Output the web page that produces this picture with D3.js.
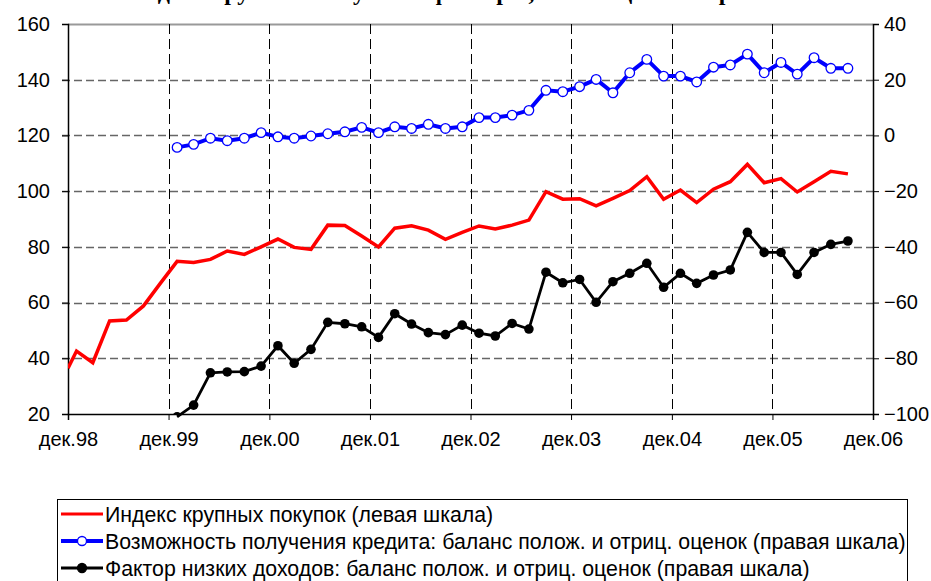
<!DOCTYPE html>
<html>
<head>
  <meta charset="utf-8">
  <title>Индекс крупных покупок</title>
  <style>
    body {
      background-color: white;
      margin: 0;
      padding: 0;
    }
    svg {
      display: block;
      font-family: "Liberation Sans", Arial, sans-serif;
    }
  </style>
</head>
<body>
  <div id="chart-container"></div>

  <script src="https://d3js.org/d3.v7.min.js"></script>
  <script>
    // Survey dates (Dec 98, then every other month)
    const dates = [
      '1998-12', '1999-01', '1999-03', '1999-05', '1999-07', '1999-09', '1999-11',
      '2000-01', '2000-03', '2000-05', '2000-07', '2000-09', '2000-11',
      '2001-01', '2001-03', '2001-05', '2001-07', '2001-09', '2001-11',
      '2002-01', '2002-03', '2002-05', '2002-07', '2002-09', '2002-11',
      '2003-01', '2003-03', '2003-05', '2003-07', '2003-09', '2003-11',
      '2004-01', '2004-03', '2004-05', '2004-07', '2004-09', '2004-11',
      '2005-01', '2005-03', '2005-05', '2005-07', '2005-09', '2005-11',
      '2006-01', '2006-03', '2006-05', '2006-07', '2006-09'
    ];

    // Индекс крупных покупок (левая шкала)
    const purchases = [
      36.4, 42.6, 38.4, 53.4, 53.7, 58.8, 66.9,
      74.8, 74.4, 75.5, 78.5, 77.3, 80.0,
      82.8, 79.8, 79.1, 87.8, 87.7, 83.9,
      80.0, 86.7, 87.6, 86.0, 82.7, 85.2,
      87.5, 86.4, 87.8, 89.6, 99.8, 97.1,
      97.3, 94.7, 97.4, 100.2, 105.2, 97.1,
      100.4, 95.9, 100.7, 103.4, 109.6, 103.0,
      104.5, 99.7, 103.4, 107.1, 106.2
    ];

    // Возможность получения кредита (правая шкала)
    const credit = [
      null, null, null, null, null, null, null,
      -4.3, -3.2, -1.0, -1.9, -1.0, 1.0,
      -0.5, -1.0, -0.2, 0.6, 1.3, 2.9,
      1.0, 3.1, 2.5, 4.0, 2.5, 3.1,
      6.4, 6.4, 7.3, 9.0, 16.2, 15.7,
      17.5, 20.1, 15.3, 22.5, 27.3, 21.3,
      21.3, 19.2, 24.5, 25.3, 29.2, 22.5,
      26.2, 22.0, 27.9, 24.1, 24.1
    ];

    // Фактор низких доходов (правая шкала)
    const lowIncome = [
      null, null, null, null, null, null, null,
      -101, -96.8, -85.2, -84.9, -84.8, -82.8,
      -75.5, -81.8, -76.8, -67.1, -67.6, -68.7,
      -72.5, -64.0, -67.7, -70.8, -71.5, -68.1,
      -71.0, -72.0, -67.5, -69.5, -49.1, -52.9,
      -51.7, -59.9, -52.5, -49.5, -45.9, -54.5,
      -49.5, -53.1, -50.1, -48.3, -34.8, -42.0,
      -42.0, -49.9, -42.0, -39.1, -37.9
    ];

    const xTicks = ['1998-12', '1999-12', '2000-12', '2001-12', '2002-12',
                    '2003-12', '2004-12', '2005-12', '2006-12'];
    const leftTicks = [20, 40, 60, 80, 100, 120, 140, 160];
    const rightTicks = [-100, -80, -60, -40, -20, 0, 20, 40];

    const legendLabels = [
      'Индекс крупных покупок (левая шкала)',
      'Возможность получения кредита: баланс полож. и отриц. оценок (правая шкала)',
      'Фактор низких доходов: баланс полож. и отриц. оценок (правая шкала)'
    ];

    const width = 931, height = 581;
    const margin = { top: 24, right: 58, bottom: 167, left: 68 };
    const parseMonth = d3.timeParse('%Y-%m');
    const monthsRu = ['янв', 'фев', 'мар', 'апр', 'май', 'июн', 'июл', 'авг', 'сен', 'окт', 'ноя', 'дек'];

    const svg = d3.select('#chart-container').append('svg')
      .attr('width', width)
      .attr('height', height);

    const x = d3.scaleTime()
      .domain([parseMonth(xTicks[0]), parseMonth(xTicks[xTicks.length - 1])])
      .range([margin.left, width - margin.right]);
    const yLeft = d3.scaleLinear().domain([20, 160]).range([height - margin.bottom, margin.top]);
    const yRight = d3.scaleLinear().domain([-100, 40]).range([height - margin.bottom, margin.top]);

    const x0 = margin.left, x1 = width - margin.right;
    const y0 = height - margin.bottom, y1 = margin.top;

    // title, almost all of it above the top edge (only descenders show)
    svg.append('text')
      .attr('x', 440)
      .attr('y', 0)
      .attr('text-anchor', 'middle')
      .style('font-family', '"Liberation Serif", "Times New Roman", serif')
      .style('font-weight', 'bold')
      .style('font-size', '24px')
      .text('Индекс крупных покупок и факторы, влияющие на спрос');

    svg.append('clipPath').attr('id', 'plot-clip')
      .append('rect')
      .attr('x', x0).attr('y', y1)
      .attr('width', x1 - x0).attr('height', y0 - y1);

    // plot border top
    svg.append('line')
      .attr('x1', x0).attr('x2', x1).attr('y1', y1 + 0.5).attr('y2', y1 + 0.5)
      .attr('stroke', '#999').attr('stroke-width', 2);

    // horizontal grid
    svg.append('g')
      .selectAll('line')
      .data(leftTicks.slice(1, -1))
      .enter()
      .append('line')
      .attr('x1', x0 - 6).attr('x2', x1)
      .attr('y1', d => Math.round(yLeft(d)) + 0.5)
      .attr('y2', d => Math.round(yLeft(d)) + 0.5)
      .attr('stroke', '#666')
      .attr('stroke-width', 1.5)
      .attr('stroke-dasharray', '8,4');

    // vertical grid
    svg.append('g')
      .selectAll('line')
      .data(xTicks.slice(1, -1))
      .enter()
      .append('line')
      .attr('x1', d => Math.round(x(parseMonth(d))) + 0.5)
      .attr('x2', d => Math.round(x(parseMonth(d))) + 0.5)
      .attr('y1', y1).attr('y2', y0)
      .attr('stroke', '#000')
      .attr('stroke-width', 1)
      .attr('stroke-dasharray', '10,5');

    // axes
    const tickFont = g => g.selectAll('text')
      .style('font-size', '20px')
      .style('font-family', '"Liberation Sans", Arial, sans-serif')
      .attr('fill', '#000');

    svg.append('g')
      .attr('transform', `translate(${x0},0)`)
      .call(d3.axisLeft(yLeft).tickValues(leftTicks).tickSize(6).tickPadding(12))
      .call(tickFont)
      .call(g => g.select('.domain').attr('stroke-width', 1.5));

    svg.append('g')
      .attr('transform', `translate(${x1},0)`)
      .call(d3.axisRight(yRight).tickValues(rightTicks).tickSize(6).tickPadding(5))
      .call(tickFont)
      .call(g => g.select('.domain').attr('stroke-width', 1.5));

    svg.append('g')
      .attr('transform', `translate(0,${y0})`)
      .call(d3.axisBottom(x)
        .tickValues(xTicks.map(parseMonth))
        .tickSize(6).tickPadding(12)
        .tickFormat(d => monthsRu[d.getMonth()] + '.' + d3.timeFormat('%y')(d)))
      .call(tickFont)
      .call(g => g.select('.domain').attr('stroke-width', 1.5));

    // series
    const plot = svg.append('g').attr('clip-path', 'url(#plot-clip)');

    const rows = (values) => dates.map((d, i) => ({ date: parseMonth(d), v: values[i] }))
      .filter(d => d.v !== null);

    const lineLeft = d3.line().x(d => x(d.date)).y(d => yLeft(d.v));
    const lineRight = d3.line().x(d => x(d.date)).y(d => yRight(d.v));

    plot.append('path')
      .datum(rows(purchases))
      .attr('d', lineLeft)
      .attr('fill', 'none')
      .attr('stroke', '#ff0000')
      .attr('stroke-width', 3.5)
      .attr('stroke-linejoin', 'miter');

    plot.append('path')
      .datum(rows(credit))
      .attr('d', lineRight)
      .attr('fill', 'none')
      .attr('stroke', '#0000ff')
      .attr('stroke-width', 4);

    plot.selectAll('.credit-dot')
      .data(rows(credit))
      .enter()
      .append('circle')
      .attr('class', 'credit-dot')
      .attr('cx', d => x(d.date))
      .attr('cy', d => yRight(d.v))
      .attr('r', 4.8)
      .attr('fill', '#fff')
      .attr('stroke', '#0000ff')
      .attr('stroke-width', 1.3);

    svg.append('path')
      .datum(rows(lowIncome))
      .attr('d', lineRight)
      .attr('fill', 'none')
      .attr('stroke', '#000')
      .attr('stroke-width', 2.8);

    plot.selectAll('.income-dot')
      .data(rows(lowIncome))
      .enter()
      .append('circle')
      .attr('class', 'income-dot')
      .attr('cx', d => x(d.date))
      .attr('cy', d => yRight(d.v))
      .attr('r', 4.8)
      .attr('fill', '#000');

    // legend
    const legend = svg.append('g').attr('transform', 'translate(57,499)');
    legend.append('rect')
      .attr('x', 0.5).attr('y', 0.5)
      .attr('width', 850).attr('height', 100)
      .attr('fill', '#fff')
      .attr('stroke', '#000')
      .attr('stroke-width', 1);

    const legendColors = ['#ff0000', '#0000ff', '#000'];
    const item = legend.selectAll('.item')
      .data(legendLabels)
      .enter()
      .append('g')
      .attr('class', 'item')
      .attr('transform', (d, i) => `translate(0,${15 + i * 27})`);

    item.append('line')
      .attr('x1', 4).attr('x2', 46)
      .attr('y1', 0).attr('y2', 0)
      .attr('stroke', (d, i) => legendColors[i])
      .attr('stroke-width', (d, i) => i === 1 ? 4 : 3);

    item.filter((d, i) => i > 0).append('circle')
      .attr('cx', 25).attr('cy', 0).attr('r', 4.5)
      .attr('fill', (d, i) => i === 0 ? '#fff' : '#000')
      .attr('stroke', (d, i) => i === 0 ? '#0000ff' : '#000')
      .attr('stroke-width', 1.3);

    item.append('text')
      .attr('x', 48)
      .attr('y', 7.5)
      .style('font-size', '21.3px')
      .text(d => d);
  </script>
</body>
</html>
